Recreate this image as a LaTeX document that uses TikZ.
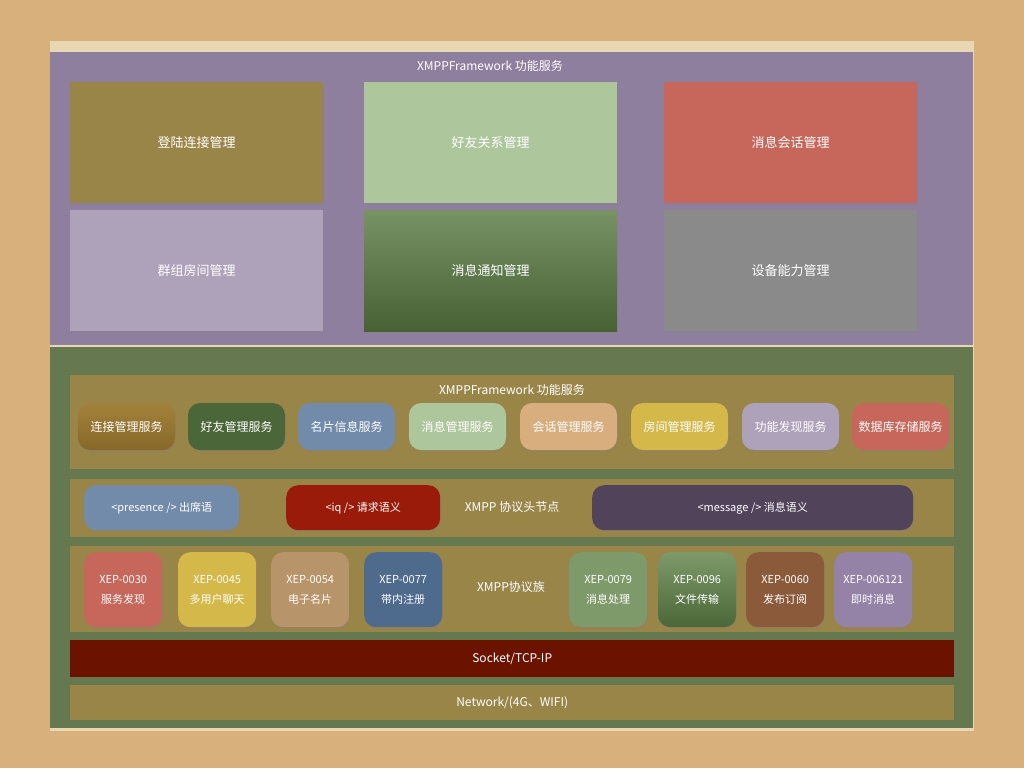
\documentclass[tikz,border=0pt]{standalone}
\usepackage{fontspec}
\setmainfont{Noto Sans CJK SC}
\usetikzlibrary{shadows}
\definecolor{desk}{HTML}{D8B07C}
\definecolor{sheet}{HTML}{E9D7B4}
\definecolor{lilac}{HTML}{8F7F9E}
\definecolor{moss}{HTML}{66784F}
\definecolor{olive}{HTML}{9A8549}
\definecolor{sage}{HTML}{AEC69C}
\definecolor{brick}{HTML}{C7665A}
\definecolor{mauve}{HTML}{ADA2B9}
\definecolor{stone}{HTML}{8A8A8A}
\definecolor{forest}{HTML}{4B6638}
\definecolor{steel}{HTML}{728BAA}
\definecolor{sand}{HTML}{D8AE7E}
\definecolor{mustard}{HTML}{D4B84A}
\definecolor{rust}{HTML}{9A1B0A}
\definecolor{plum}{HTML}{50435A}
\definecolor{clay}{HTML}{B8946A}
\definecolor{navy}{HTML}{4E6A8C}
\definecolor{fern}{HTML}{7E9A6A}
\definecolor{bark}{HTML}{8B5A3A}
\definecolor{violet}{HTML}{9583A7}
\definecolor{maroon}{HTML}{6B1200}
\definecolor{amber}{HTML}{A2823A}
\definecolor{amberdark}{HTML}{876829}
\begin{document}
\begin{tikzpicture}[x=1pt,y=-1pt,
  tile/.style={anchor=north west,minimum width=253pt,minimum height=121pt,inner sep=0pt,
    text=white,font=\fontsize{13}{15}\selectfont,drop shadow={opacity=0.25,shadow xshift=1pt,shadow yshift=-1.5pt}},
  pill/.style={minimum width=97pt,minimum height=47pt,inner sep=0pt,rounded corners=12pt,
    text=white,font=\fontsize{12}{14}\selectfont,drop shadow={opacity=0.3,shadow xshift=1pt,shadow yshift=-2pt}},
  tag/.style={anchor=north west,minimum height=45pt,inner sep=0pt,rounded corners=12pt,
    text=white,font=\fontsize{11}{13}\selectfont,drop shadow={opacity=0.3,shadow xshift=1pt,shadow yshift=-2pt}},
  xep/.style={anchor=north west,minimum width=78pt,minimum height=75pt,inner sep=0pt,rounded corners=12pt,
    text=white,align=center,font=\fontsize{11}{20}\selectfont,drop shadow={opacity=0.3,shadow xshift=1pt,shadow yshift=-2pt}},
  bar/.style={anchor=north west,minimum width=884pt,inner sep=0pt,text=white,
    font=\fontsize{12}{14}\selectfont},
  lbl/.style={text=white,font=\fontsize{12}{14}\selectfont}]
\useasboundingbox (0,0) rectangle (1024,768);
\fill[desk] (0,0) rectangle (1024,768);
\fill[sheet] (50,41) rectangle (974,731);
\fill[lilac] (50,52) rectangle (973,345);
\fill[moss] (50,347) rectangle (973,728);

% top: function layer
\node[lbl] (toptitle) at (490,66) {XMPPFramework 功能服务};
\node[tile,fill=olive] (login) at (70,82) {登陆连接管理};
\node[tile,fill=sage] (roster) at (364,82) {好友关系管理};
\node[tile,fill=brick] (chat) at (664,82) {消息会话管理};
\node[tile,fill=mauve] (muc) at (70,210) {群组房间管理};
\node[tile,top color=fern!95!black,bottom color=forest!95!black] (notify) at (364,210) {消息通知管理};
\node[tile,fill=stone] (device) at (664,210) {设备能力管理};

%------------------------------------------------

% services
\node[bar,fill=olive,minimum height=94pt] (svcbar) at (70,375) {};
\node[lbl] (svctitle) at (512,390) {XMPPFramework 功能服务};
\node[pill,top color=amber,bottom color=amberdark] (conn) at (126.5,426.5) {连接管理服务};
\node[pill,fill=forest] (friend) at (236.5,426.5) {好友管理服务};
\node[pill,fill=steel] (vcard) at (346.5,426.5) {名片信息服务};
\node[pill,fill=sage] (msg) at (457.5,426.5) {消息管理服务};
\node[pill,fill=sand] (sess) at (568.5,426.5) {会话管理服务};
\node[pill,fill=mustard] (room) at (679.5,426.5) {房间管理服务};
\node[pill,fill=mauve] (disco) at (790.5,426.5) {功能发现服务};
\node[pill,fill=brick] (store) at (900.5,426.5) {数据库存储服务};

% protocol stanzas
\node[bar,fill=olive,minimum height=58pt] (stanzabar) at (70,479) {};
\node[tag,fill=steel,minimum width=155pt] (presence) at (84,485) {<presence /> 出席语};
\node[tag,fill=rust,minimum width=154pt] (iq) at (286,485) {<iq /> 请求语义};
\node[lbl] (stanzalbl) at (512,507) {XMPP 协议头节点};
\node[tag,fill=plum,minimum width=321pt] (message) at (592,485) {<message /> 消息语义};

% extensions
\node[bar,fill=olive,minimum height=86pt] (xepbar) at (70,546) {};
\node[xep,fill=brick] (x30) at (84,552) {XEP-0030\\服务发现};
\node[xep,fill=mustard] (x45) at (178,552) {XEP-0045\\多用户聊天};
\node[xep,fill=clay] (x54) at (271,552) {XEP-0054\\电子名片};
\node[xep,fill=navy] (x77) at (364,552) {XEP-0077\\带内注册};
\node[lbl] (xeplbl) at (511,587) {XMPP协议族};
\node[xep,fill=fern] (x79) at (569,552) {XEP-0079\\消息处理};
\node[xep,top color=fern,bottom color=forest] (x96) at (658,552) {XEP-0096\\文件传输};
\node[xep,fill=bark] (x60) at (746,552) {XEP-0060\\发布订阅};
\node[xep,fill=violet] (x6121) at (834,552) {XEP-006121\\即时消息};

% transport
\node[bar,fill=maroon,minimum height=37pt] (socket) at (70,640) {Socket/TCP-IP};
\node[bar,fill=olive,minimum height=35pt] (network) at (70,685) {Network/(4G、WIFI)};
\end{tikzpicture}
\end{document}
